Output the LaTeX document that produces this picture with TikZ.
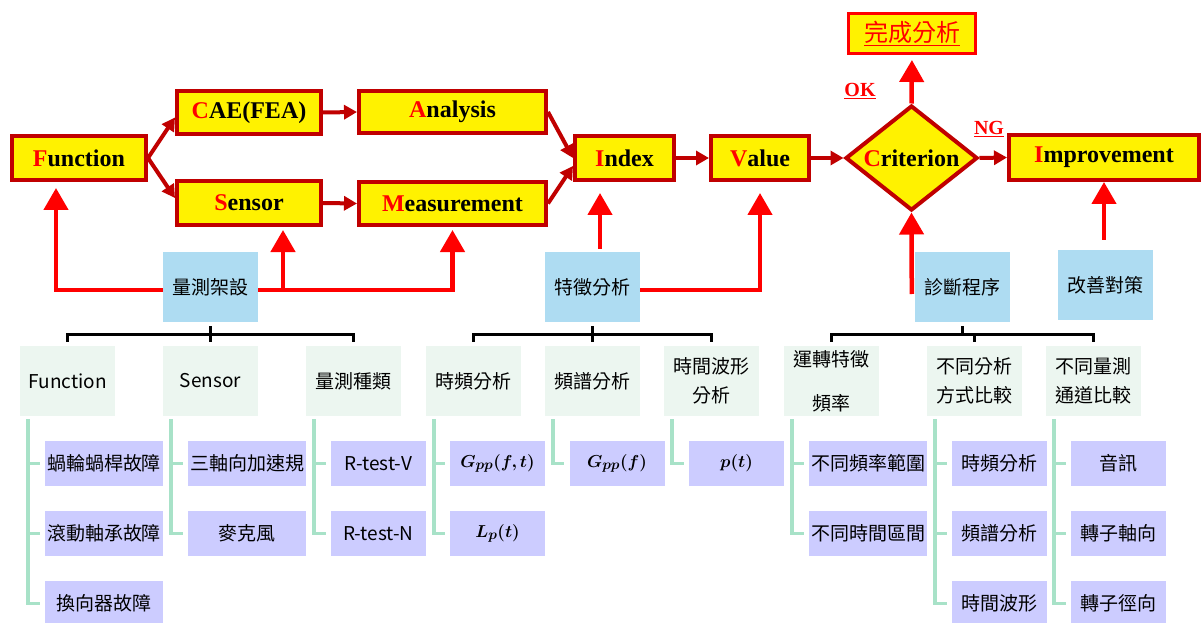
\documentclass[tikz,border=0pt]{standalone}
\usepackage{bm}
\usepackage{fontspec}
\setmainfont{Liberation Serif}
\newfontfamily\cjk{Noto Sans CJK TC}
\usetikzlibrary{arrows.meta,shapes.geometric}
\definecolor{darkred}{RGB}{192,0,0}
\definecolor{lblue}{RGB}{174,220,242}
\definecolor{lgreen}{RGB}{236,246,240}
\definecolor{lpurple}{RGB}{204,204,255}
\definecolor{treegreen}{RGB}{168,226,200}
\newcommand{\redini}[1]{{\color{red}#1}}

\begin{document}
\begin{tikzpicture}
  [x=1pt,y=-1pt,every node/.style={inner sep=0pt},
   ybox/.style={draw=darkred,fill=yellow,line width=4pt,font=\bfseries\fontsize{24}{24}\selectfont},
   lbl/.style={text=red,font=\bfseries\fontsize{20}{20}\selectfont},
   bbox/.style={fill=lblue,minimum width=95pt,minimum height=70pt,font=\cjk\fontsize{19}{19}\selectfont},
   gbox/.style={fill=lgreen,minimum width=95pt,minimum height=70pt,align=center,font=\cjk\fontsize{19}{29}\selectfont},
   leaf/.style={fill=lpurple,minimum width=95pt,minimum height=45pt,font=\cjk\fontsize{19}{19}\selectfont},
   darr/.style={draw=darkred,line width=4pt,-{Triangle[length=13pt,width=14pt]}},
   rarr/.style={draw=red,line width=4.5pt,-{Triangle[length=22pt,width=24pt]}},
   bline/.style={draw=black,line width=3pt},
   gline/.style={draw=treegreen,line width=3.5pt,shorten <=3pt,shorten >=5pt}]
  \useasboundingbox (0,0) rectangle (1203,623);

  % cadena principal
  \node[ybox,minimum width=134pt,minimum height=44pt] (fn) at (79,158) {\redini{F}unction};
  \node[ybox,minimum width=144pt,minimum height=43pt] (cae) at (249,112.5) {\redini{C}AE(FEA)};
  \node[ybox,minimum width=187pt,minimum height=42pt] (ana) at (452.5,112) {\redini{A}nalysis};
  \node[ybox,minimum width=144pt,minimum height=44pt] (sens) at (249,203) {\redini{S}ensor};
  \node[ybox,minimum width=187pt,minimum height=43pt] (meas) at (452.5,203.5) {\redini{M}easurement};
  \node[ybox,minimum width=99pt,minimum height=44pt] (idx) at (624.5,158) {\redini{I}ndex};
  \node[ybox,minimum width=98pt,minimum height=44pt] (val) at (760,158) {\redini{V}alue};
  \node[ybox,diamond,shape aspect=1.25,minimum width=132pt,minimum height=105pt] (crit) at (911.5,158) {\redini{C}riterion};
  \node[ybox,minimum width=190pt,minimum height=45pt] (imp) at (1104,157.5) {\redini{I}mprovement};
  \node[ybox,draw=red,line width=3pt,minimum width=127pt,minimum height=40pt,text=red,font=\cjk\fontsize{24}{24}\selectfont] (done) at (912,33.5) {\underline{完成分析}};
  \node[lbl] (ok) at (860,91) {\underline{OK}};
  \node[lbl] (ng) at (989,129) {\underline{NG}};

  \draw[darr] (fn.east) -- ([yshift=-5pt]cae.west);
  \draw[darr] (fn.east) -- ([yshift=5pt]sens.west);
  \draw[darr] (ana.east) -- (idx.west);
  \draw[darr] (meas.east) -- ([yshift=-8pt]idx.west);
  \foreach \from/\to in {cae/ana,sens/meas,idx/val,val/crit,crit/imp}
    \draw[darr] (\from.east) -- (\to.west);
  \draw[rarr,shorten >=5pt] (crit.north) -- (done.south);

  % cajas azules
  \node[bbox] (setup) at (210.5,287) {量測架設};
  \node[bbox] (feat) at (592.5,287) {特徵分析};
  \node[bbox] (diag) at (962.5,287) {診斷程序};
  \node[bbox] (impr) at (1105.5,285) {改善對策};

  \draw[rarr,shorten >=6pt] ([yshift=-3pt]setup.west) -| ([xshift=-23pt]fn.south);
  \draw[rarr,shorten >=3pt] ([yshift=-3pt]setup.east) -| ([xshift=34pt]sens.south);
  \draw[rarr,shorten >=3pt] ([yshift=-3pt]setup.east) -| (meas.south);
  \draw[rarr,shorten >=11pt] ([xshift=7.5pt,yshift=3pt]feat.north) -- ([xshift=-24.5pt]idx.south);
  \draw[rarr,shorten >=11pt] ([yshift=-3pt]feat.east) -| (val.south);
  \draw[rarr] ([xshift=-3pt,yshift=-7pt]diag.west) -- (crit.south);
  \draw[rarr] ([xshift=-1.5pt,yshift=10pt]impr.north) -- (imp.south);

  % segundo nivel
  \node[gbox] (s1) at (67.5,381) {Function};
  \node[gbox] (s2) at (210.5,381) {Sensor};
  \node[gbox] (s3) at (353.5,381) {量測種類};
  \node[gbox] (s4) at (473.5,381) {時頻分析};
  \node[gbox] (s5) at (592.5,381) {頻譜分析};
  \node[gbox] (s6) at (711.5,381) {時間波形\\分析};
  \node[gbox] (s7) at (831.5,381) {運轉特徵\\[15pt]頻率};
  \node[gbox] (s8) at (974.5,381) {不同分析\\方式比較};
  \node[gbox] (s9) at (1093.5,381) {不同量測\\通道比較};

  \foreach \p/\c in {setup/s1,setup/s2,setup/s3,feat/s4,feat/s5,feat/s6,diag/s7,diag/s8,diag/s9}
    \draw[bline] ([yshift=-4pt]\p.south) -- ++(0,8) -| ([yshift=4pt]\c.north);

  % hojas
  \node[leaf,minimum width=118pt] (l11) at (104,463.5) {蝸輪蝸桿故障};
  \node[leaf,minimum width=118pt] (l12) at (104,533.5) {滾動軸承故障};
  \node[leaf,minimum width=118pt] (l13) at (104,603.5) {換向器故障};
  \node[leaf,minimum width=118pt] (l21) at (247,463.5) {三軸向加速規};
  \node[leaf,minimum width=118pt] (l22) at (247,533.5) {麥克風};
  \node[leaf] (l31) at (378.5,463.5) {R-test-V};
  \node[leaf] (l32) at (378.5,533.5) {R-test-N};
  \node[leaf] (l41) at (497.5,463.5) {$\bm{G_{pp}(f,t)}$};
  \node[leaf] (l42) at (497.5,533.5) {$\bm{L_{p}(t)}$};
  \node[leaf] (l51) at (617,463.5) {$\bm{G_{pp}(f)}$};
  \node[leaf] (l61) at (736.5,463.5) {$\bm{p(t)}$};
  \node[leaf,minimum width=118pt] (l71) at (868,463.5) {不同頻率範圍};
  \node[leaf,minimum width=118pt] (l72) at (868,533.5) {不同時間區間};
  \node[leaf] (l81) at (999.5,463.5) {時頻分析};
  \node[leaf] (l82) at (999.5,533.5) {頻譜分析};
  \node[leaf] (l83) at (999.5,603.5) {時間波形};
  \node[leaf] (l91) at (1118.5,463.5) {音訊};
  \node[leaf] (l92) at (1118.5,533.5) {轉子軸向};
  \node[leaf] (l93) at (1118.5,603.5) {轉子徑向};

  \foreach \p/\c in {s1/l11,s1/l12,s1/l13,s2/l21,s2/l22,s3/l31,s3/l32,s4/l41,s4/l42,s5/l51,
                     s6/l61,s7/l71,s7/l72,s8/l81,s8/l82,s8/l83,s9/l91,s9/l92,s9/l93}
    \draw[gline] ([xshift=8pt]\p.south west) |- (\c.west);

\end{tikzpicture}
\end{document}
